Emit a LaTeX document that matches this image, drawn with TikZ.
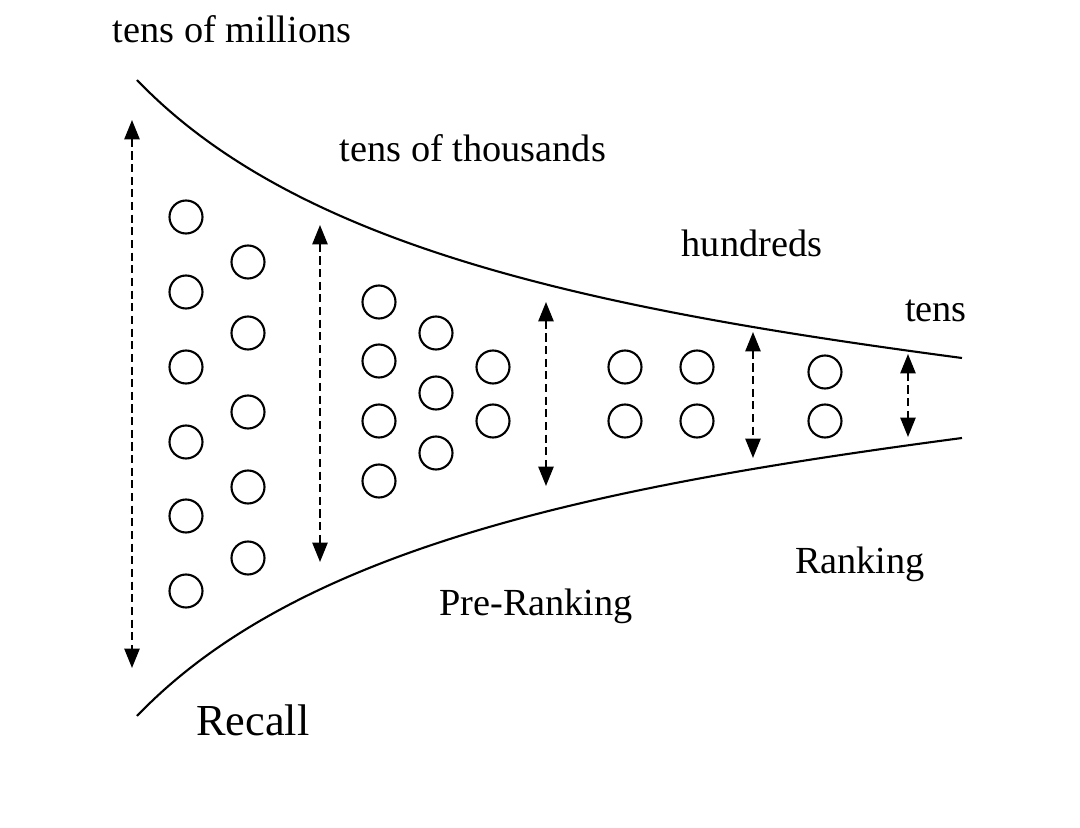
\documentclass[tikz,border=0pt]{standalone}
\usepackage{fontspec}
\setmainfont{Liberation Serif}
\usepackage{tikz}
\usetikzlibrary{arrows.meta}

\begin{document}
\begin{tikzpicture}[
  x=0.1mm, y=-0.1mm,
  item/.style    = {circle, draw=black, line width=0.6pt, inner sep=0pt,
                    minimum size=0.33cm},
  funnel/.style  = {line width=0.6pt, black},
  span/.style    = {{Triangle[length=5.5pt, width=4.3pt]}-{Triangle[length=5.5pt, width=4.3pt]},
                    line width=0.6pt, dash pattern=on 2.3pt off 1.3pt, black},
  count/.style   = {anchor=base, inner sep=0pt, font=\fontsize{10.9pt}{13pt}\selectfont},
  stage/.style   = {anchor=base, inner sep=0pt, font=\fontsize{10.9pt}{13pt}\selectfont},
  bigstage/.style= {anchor=base, inner sep=0pt, font=\fontsize{12.6pt}{15pt}\selectfont}
]
\useasboundingbox (0,0) rectangle (1080,828);

% ── Funnel outline ───────────────────────────────────────────────────────────
\coordinate (upL) at (137,80);
\coordinate (upR) at (962,358);
\coordinate (loL) at (137,716);
\coordinate (loR) at (962,438);
\draw[funnel] (upL) .. controls (300,250) and (600,310) .. (upR);
\draw[funnel] (loL) .. controls (300,546) and (600,486) .. (loR);

% ── Recall items ─────────────────────────────────────────────────────────────
\node[item] (ra1) at (186,217) {};
\node[item] (ra2) at (186,292) {};
\node[item] (ra3) at (186,367) {};
\node[item] (ra4) at (186,442) {};
\node[item] (ra5) at (186,516) {};
\node[item] (ra6) at (186,591) {};
\node[item] (rb1) at (248,262) {};
\node[item] (rb2) at (248,333) {};
\node[item] (rb3) at (248,412) {};
\node[item] (rb4) at (248,487) {};
\node[item] (rb5) at (248,558) {};

% ── Pre-Ranking items ────────────────────────────────────────────────────────
\node[item] (pa1) at (379,302) {};
\node[item] (pa2) at (379,361) {};
\node[item] (pa3) at (379,421) {};
\node[item] (pa4) at (379,481) {};
\node[item] (pb1) at (436,333) {};
\node[item] (pb2) at (436,393) {};
\node[item] (pb3) at (436,453) {};
\node[item] (pc1) at (493,367) {};
\node[item] (pc2) at (493,421) {};

% ── Ranking items ────────────────────────────────────────────────────────────
\node[item] (ka1) at (625,367) {};
\node[item] (ka2) at (625,421) {};
\node[item] (kb1) at (697,367) {};
\node[item] (kb2) at (697,421) {};

% ── Final items ──────────────────────────────────────────────────────────────
\node[item] (ta1) at (825,372) {};
\node[item] (ta2) at (825,421) {};

% ── Size arrows ──────────────────────────────────────────────────────────────
\coordinate (s1t) at (132,120);  \coordinate (s1b) at (132,668);
\coordinate (s2t) at (320,225);  \coordinate (s2b) at (320,562);
\coordinate (s3t) at (546,302);  \coordinate (s3b) at (546,486);
\coordinate (s4t) at (753,332);  \coordinate (s4b) at (753,458);
\coordinate (s5t) at (908,354);  \coordinate (s5b) at (908,437);
\draw[span] (s1t) -- (s1b);
\draw[span] (s2t) -- (s2b);
\draw[span] (s3t) -- (s3b);
\draw[span] (s4t) -- (s4b);
\draw[span] (s5t) -- (s5b);

% ── Labels ───────────────────────────────────────────────────────────────────
\node[count] (nmil) at (232,43)  {tens of millions};
\node[count] (nths) at (473,162) {tens of thousands};
\node[count] (nhun) at (752,257) {hundreds};
\node[count] (nten) at (936,322) {tens};
\node[stage] (lrank) at (860,574) {Ranking};
\node[stage] (lpre)  at (536,616) {Pre-Ranking};
\node[bigstage] (lrec) at (253,736) {Recall};
\end{tikzpicture}
\end{document}
